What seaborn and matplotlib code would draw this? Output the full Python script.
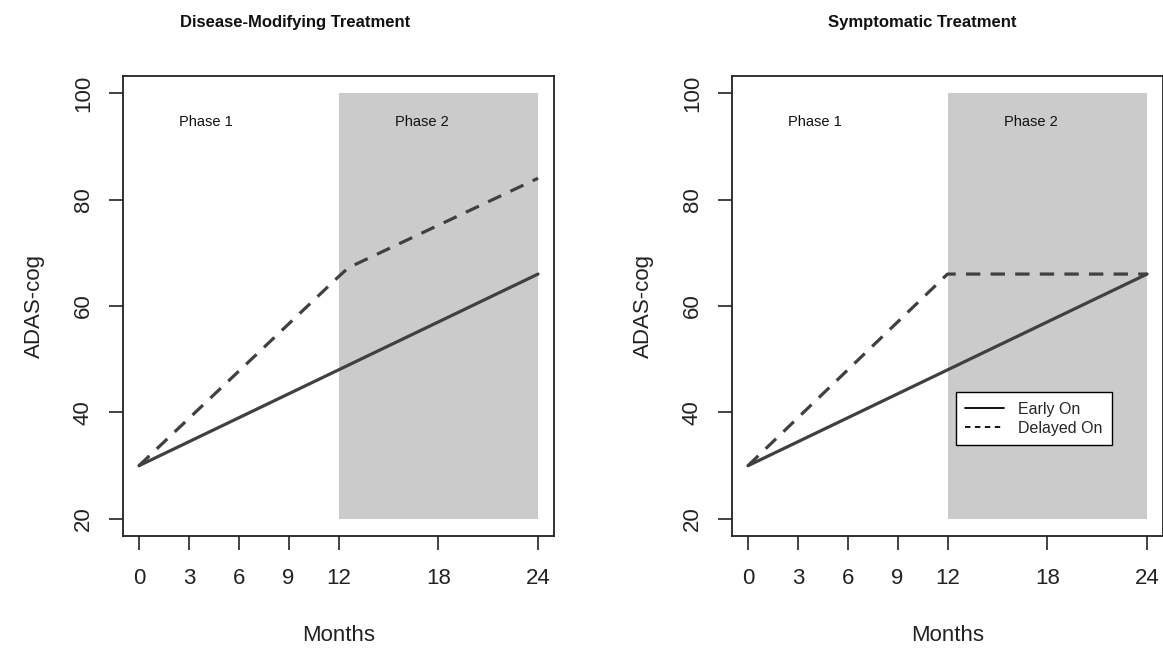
import numpy as np
import pandas as pd
import matplotlib
matplotlib.use("Agg")
import matplotlib.pyplot as plt
import seaborn as sns
from matplotlib.patches import Rectangle
from matplotlib.lines import Line2D

# data
dm_months_early = [0, 12, 24]
dm_early = [30, 48, 66]
dm_months_delayed = [0, 12, 12.6, 24]
dm_delayed = [30, 65.5, 67.2, 84]

sym_months_early = [0, 12, 24]
sym_early = [30, 48, 66]
sym_months_delayed = [0, 12, 24]
sym_delayed = [30, 66, 66]

x_ticks = [0, 3, 6, 9, 12, 18, 24]
y_ticks = [20, 40, 60, 80, 100]
titles = ["Disease-Modifying Treatment", "Symptomatic Treatment"]
groups = ["Early On", "Delayed On"]


def make_df(me, ye, md, yd):
    a = pd.DataFrame({"Months": me, "ADAS": ye, "group": groups[0]})
    b = pd.DataFrame({"Months": md, "ADAS": yd, "group": groups[1]})
    return pd.concat([a, b], ignore_index=True)


panels = [
    make_df(dm_months_early, dm_early, dm_months_delayed, dm_delayed),
    make_df(sym_months_early, sym_early, sym_months_delayed, sym_delayed),
]

sns.set_style("ticks")
plt.rcParams["font.family"] = ["Liberation Sans", "DejaVu Sans"]

fig = plt.figure(figsize=(11.63, 6.51), dpi=100)
W, H = 1163, 651
line_col = "#404040"
dash_style = {groups[0]: "", groups[1]: (4.5, 3.2)}

lefts = [123, 732]
title_x = [295, 922]
for i, df in enumerate(panels):
    ax = fig.add_axes([lefts[i] / W, (H - 536) / H, 431 / W, 460 / H])
    ax.add_patch(Rectangle((12, 20), 12, 80, facecolor="#cbcbcb", edgecolor="none", zorder=0))
    sns.lineplot(data=df, x="Months", y="ADAS", style="group", dashes=dash_style,
                 color=line_col, linewidth=2.3, ax=ax, legend=False, zorder=3)
    ax.set_xlim(-0.96, 24.96)
    ax.set_ylim(16.8, 103.2)
    ax.set_xticks(x_ticks)
    ax.set_yticks(y_ticks)
    ax.set_yticklabels([str(v) for v in y_ticks], rotation=90, va="center")
    ax.tick_params(axis="both", length=10, width=1.2, color="#222222",
                   labelsize=16, labelcolor="#222222")
    ax.tick_params(axis="x", pad=13)
    ax.tick_params(axis="y", pad=11)
    for s in ax.spines.values():
        s.set_visible(True)
        s.set_linewidth(1.3)
        s.set_color("#222222")
    ax.set_xlabel("Months", fontsize=16, color="#222222", labelpad=26)
    ax.set_ylabel("ADAS-cog", fontsize=16, color="#222222", labelpad=20)
    ax.text(4, 94.5, "Phase 1", fontsize=10.5, ha="center", va="center", color="#111111")
    ax.text(17, 94.5, "Phase 2", fontsize=10.5, ha="center", va="center", color="#111111")
    fig.text(title_x[i] / W, 1 - 22 / H, titles[i], fontsize=12, fontweight="bold",
             ha="center", va="center", color="#111111")
    if i == 1:
        handles = [Line2D([], [], color="black", lw=1.3, ls="-"),
                   Line2D([], [], color="black", lw=1.3, ls=(0, (3, 2.5)))]
        leg = ax.legend(handles, groups, loc="upper left", bbox_to_anchor=(12.5, 43.8),
                        bbox_transform=ax.transData, fontsize=11.5, frameon=True,
                        fancybox=False, framealpha=1, edgecolor="black",
                        handlelength=2.4, handletextpad=0.9, borderpad=0.6,
                        labelspacing=0.25, borderaxespad=0)
        leg.get_frame().set_linewidth(1.0)

fig.savefig("out.png", dpi=100)
